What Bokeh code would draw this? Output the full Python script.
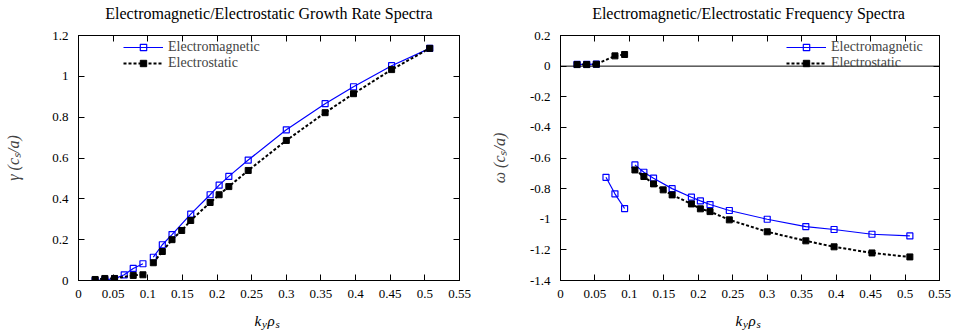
from bokeh.plotting import figure
from bokeh.models import Range1d, FixedTicker, LinearAxis, Legend, LegendItem, Span, Label
from bokeh.layouts import row, column
from bokeh.embed import file_html
from bokeh.resources import INLINE

nan = float("nan")

# ---- growth rate spectra (left) ----
ky_gamma_em = [0.024, 0.038, 0.052, 0.066, 0.079, 0.093, nan, 0.108, 0.121, 0.135, 0.162,
               0.190, 0.203, 0.217, 0.245, 0.300, 0.356, 0.397, 0.452, 0.507]
gamma_em = [0.0, 0.004, 0.008, 0.028, 0.059, 0.082, nan, 0.114, 0.175, 0.225, 0.325,
            0.420, 0.467, 0.510, 0.590, 0.738, 0.866, 0.949, 1.052, 1.137]
ky_gamma_es = [0.024, 0.038, 0.052, 0.079, 0.093, nan, 0.108, 0.121, 0.135, 0.149, 0.162,
               0.190, 0.203, 0.217, 0.245, 0.300, 0.356, 0.397, 0.452, 0.507]
gamma_es = [0.005, 0.010, 0.010, 0.025, 0.028, nan, 0.087, 0.142, 0.200, 0.245, 0.294,
            0.382, 0.420, 0.460, 0.539, 0.686, 0.822, 0.915, 1.033, 1.137]

# ---- frequency spectra (right) ----
ky_omega_em = [0.024, 0.038, 0.052, nan, 0.066, 0.079, 0.093, nan, 0.108, 0.121, 0.135, 0.162,
               0.190, 0.203, 0.217, 0.245, 0.300, 0.356, 0.397, 0.452, 0.507]
omega_em = [0.012, 0.012, 0.013, nan, -0.726, -0.834, -0.930, nan, -0.645, -0.693, -0.732, -0.800,
            -0.856, -0.880, -0.904, -0.943, -1.000, -1.048, -1.067, -1.098, -1.109]
ky_omega_es = [0.024, 0.038, 0.052, 0.079, 0.093, nan, 0.108, 0.121, 0.135, 0.149, 0.162,
               0.190, 0.203, 0.217, 0.245, 0.300, 0.356, 0.397, 0.452, 0.507]
omega_es = [0.010, 0.010, 0.012, 0.067, 0.076, nan, -0.678, -0.721, -0.769, -0.808, -0.841,
            -0.900, -0.932, -0.950, -1.004, -1.082, -1.141, -1.180, -1.220, -1.246]

x_ticks = [0, 0.05, 0.1, 0.15, 0.2, 0.25, 0.3, 0.35, 0.4, 0.45, 0.5, 0.55]
x_tick_labels = ["0", "0.05", "0.1", "0.15", "0.2", "0.25", "0.3", "0.35", "0.4", "0.45", "0.5", "0.55"]
gamma_ticks = [0, 0.2, 0.4, 0.6, 0.8, 1, 1.2]
gamma_tick_labels = ["0", "0.2", "0.4", "0.6", "0.8", "1", "1.2"]
omega_ticks = [0.2, 0, -0.2, -0.4, -0.6, -0.8, -1, -1.2, -1.4]
omega_tick_labels = ["0.2", "0", "-0.2", "-0.4", "-0.6", "-0.8", "-1", "-1.2", "-1.4"]

titles = ["Electromagnetic/Electrostatic Growth Rate Spectra",
          "Electromagnetic/Electrostatic Frequency Spectra"]
series_labels = ["Electromagnetic", "Electrostatic"]

FONT = "Liberation Serif"
BLUE = "#0000ff"
BLACK = "#000000"
X_RANGE = (0, 0.55)
TITLE_H = 24
LABEL_H = 22
HEIGHT = 330 - TITLE_H - LABEL_H
MB_TOP = 35 - TITLE_H
MB_BOTTOM = 28
FRAME_H = HEIGHT - MB_TOP - MB_BOTTOM


def style_axis(ax, ticks, labels, show_labels=True, standoff=9):
    ax.ticker = FixedTicker(ticks=ticks)
    ax.major_tick_in = 6
    ax.major_tick_out = 0
    ax.minor_tick_line_color = None
    ax.major_tick_line_color = "black"
    ax.axis_line_color = "black"
    ax.major_label_text_font = FONT
    if show_labels:
        ax.major_label_overrides = {t: l for t, l in zip(ticks, labels)}
        ax.major_label_text_font_size = "13px"
        ax.major_label_text_color = "black"
        ax.major_label_standoff = standoff
    else:
        ax.major_label_text_font_size = "1px"
        ax.major_label_text_color = None
        ax.major_label_standoff = 0


def make_fig(ylabel, yr, yticks, ylabels, width, mbl, mbr, ylabel_standoff):
    p = figure(width=width, height=HEIGHT, output_backend="svg", toolbar_location=None,
               x_range=Range1d(*X_RANGE), y_range=Range1d(*yr),
               min_border_left=mbl, min_border_right=mbr, min_border_top=MB_TOP,
               min_border_bottom=MB_BOTTOM)
    p.xgrid.visible = False
    p.ygrid.visible = False
    p.outline_line_color = "black"
    p.outline_line_width = 1
    p.background_fill_color = "white"
    p.border_fill_color = "white"
    style_axis(p.xaxis[0], x_ticks, x_tick_labels, standoff=9)
    style_axis(p.yaxis[0], yticks, ylabels, standoff=10)
    p.yaxis[0].axis_label = ylabel
    p.yaxis[0].axis_label_text_font = FONT
    p.yaxis[0].axis_label_text_font_size = "16px"
    p.yaxis[0].axis_label_text_font_style = "italic"
    p.yaxis[0].axis_label_standoff = ylabel_standoff
    top = LinearAxis()
    style_axis(top, x_ticks, x_tick_labels, show_labels=False)
    p.add_layout(top, "above")
    right = LinearAxis()
    style_axis(right, yticks, ylabels, show_labels=False)
    p.add_layout(right, "right")
    return p


def make_strip(width, height):
    f = figure(width=width, height=height, output_backend="svg", toolbar_location=None,
               x_range=Range1d(0, width), y_range=Range1d(0, height),
               x_axis_type=None, y_axis_type=None, min_border=0)
    f.outline_line_color = None
    f.xgrid.visible = False
    f.ygrid.visible = False
    return f


def make_title(width, text, xc):
    f = make_strip(width, TITLE_H)
    f.add_layout(Label(x=xc, y=TITLE_H - 13, text=text, text_font=FONT,
                       text_font_size="16px", text_align="center",
                       text_baseline="middle", text_color="black"))
    return f


def make_xlabel(width, x0):
    # x-axis title k_y rho_s with subscripts, composed of text pieces
    f = make_strip(width, LABEL_H)
    pieces = [("k", 0, 15, 0), ("y", 7.5, 11, -3), ("\u03c1", 13, 15, 0), ("s", 21, 11, -3)]
    for txt, dx, fs, dy in pieces:
        f.add_layout(Label(x=x0 + dx, y=LABEL_H - 12 + dy, text=txt, text_font=FONT,
                           text_font_size=f"{fs}px", text_font_style="italic",
                           text_baseline="alphabetic", text_color="black"))
    return f


def add_series(p, x_em, y_em, x_es, y_es, legend_x):
    l_em = p.line(x_em, y_em, line_color=BLUE, line_width=1.2)
    s_em = p.scatter(x_em, y_em, marker="square", size=6, fill_color="white", fill_alpha=0,
                     line_color=BLUE, line_width=1.2)
    l_es = p.line(x_es, y_es, line_color=BLACK, line_width=2, line_dash="3 2")
    s_es = p.scatter(x_es, y_es, marker="square", size=6, fill_color=BLACK, line_color=BLACK)
    row_h = 16
    centers = [11.5, 27.5]  # row centres below frame top (px)
    for item, c in zip([LegendItem(label=series_labels[0], renderers=[l_em, s_em]),
                        LegendItem(label=series_labels[1], renderers=[l_es, s_es])], centers):
        legend = Legend(items=[item], location=(legend_x, FRAME_H - c - row_h / 2))
        legend.label_text_font = FONT
        legend.label_text_font_size = "14px"
        legend.label_height = row_h
        legend.glyph_height = row_h
        legend.glyph_width = 40
        legend.label_standoff = 5
        legend.spacing = 0
        legend.padding = 0
        legend.margin = 0
        legend.background_fill_alpha = 0
        legend.border_line_alpha = 0
        p.add_layout(legend, "center")


W1, W2 = 487, 471
p1 = make_fig("\u03b3 (c\u209b/a)", (0, 1.2), gamma_ticks, gamma_tick_labels, W1, 78, 28, 27)
add_series(p1, ky_gamma_em, gamma_em, ky_gamma_es, gamma_es, 45)

p2 = make_fig("\u03c9 (c\u209b/a)", (-1.4, 0.2), omega_ticks, omega_tick_labels, W2, 70, 19, 19)
p2.add_layout(Span(location=0, dimension="width", line_color="black", line_width=1))
add_series(p2, ky_omega_em, omega_em, ky_omega_es, omega_es, 226)

t1 = make_title(W1, titles[0], 268.5)
t2 = make_title(W2, titles[1], 261)
lab1 = make_xlabel(W1, 254)
lab2 = make_xlabel(W2, 248)

layout = column(row(t1, t2), row(p1, p2), row(lab1, lab2))
open("out.html", "w").write(file_html(layout, INLINE))
